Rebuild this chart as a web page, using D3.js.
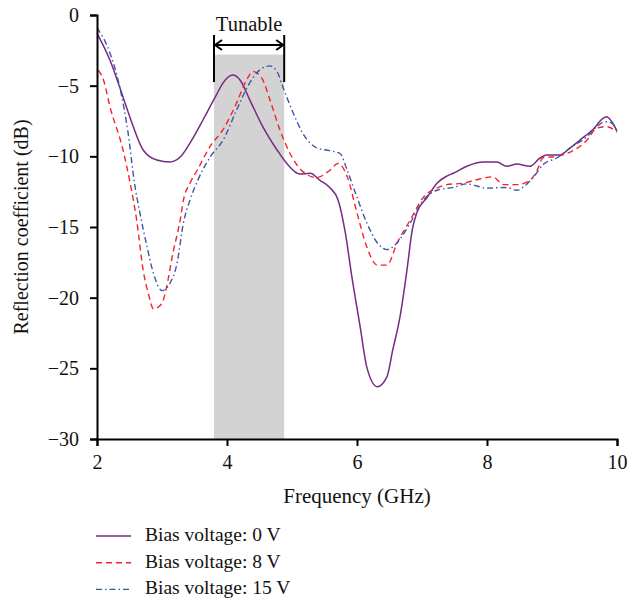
<!DOCTYPE html>
<html><head><meta charset="utf-8">
<script src="https://cdn.jsdelivr.net/npm/d3@7"></script>
<style>body{margin:0;background:#fff}svg text{font-family:"Liberation Serif","Times New Roman",serif;fill:#111}</style>
</head><body><svg id="c" width="639" height="601"></svg>
<script>
const xTicks = [2, 4, 6, 8, 10];
const yTicks = [0, -5, -10, -15, -20, -25, -30];
const seriesNames = ["Bias voltage: 0 V", "Bias voltage: 8 V", "Bias voltage: 15 V"];
const tunableBand = [3.8, 4.88, -2.8];

const freq0 = [2.0,2.2,2.4,2.55,2.71,2.92,3.12,3.28,3.43,3.63,3.82,3.94,4.09,4.2,4.35,4.55,4.77,4.92,5.12,5.28,5.43,5.58,5.71,5.82,5.92,6.05,6.15,6.31,6.46,6.55,6.66,6.77,6.85,6.92,7.08,7.23,7.38,7.48,7.69,7.94,8.15,8.3,8.46,8.66,8.82,8.92,9.12,9.28,9.43,9.63,9.79,9.84,9.92,10.0];
const db0 = [-1.3,-3.2,-5.8,-7.8,-9.55,-10.26,-10.4,-10.05,-9.06,-7.43,-5.8,-4.8,-4.25,-4.6,-6.0,-7.9,-9.55,-10.5,-11.25,-11.2,-11.7,-12.2,-13.1,-15.4,-18.5,-22.1,-24.9,-26.3,-25.6,-23.7,-21.4,-18.0,-15.2,-14.0,-12.9,-11.9,-11.4,-11.2,-10.7,-10.4,-10.4,-10.7,-10.55,-10.7,-10.1,-9.9,-9.9,-9.4,-8.85,-8.1,-7.3,-7.2,-7.55,-8.2];

const freq8 = [2.02,2.1,2.2,2.4,2.51,2.61,2.71,2.79,2.87,3.0,3.07,3.17,3.28,3.33,3.43,3.54,3.74,3.94,4.15,4.3,4.4,4.54,4.66,4.82,4.97,5.17,5.38,5.58,5.71,5.85,6.0,6.15,6.31,6.46,6.62,6.82,7.02,7.23,7.38,7.63,7.89,8.09,8.25,8.46,8.66,8.77,8.86,9.08,9.28,9.54,9.69,9.84,10.0];
const db8 = [-3.9,-4.6,-6.5,-9.55,-11.9,-14.5,-18.05,-19.7,-20.8,-20.4,-19.25,-16.8,-14.5,-13.1,-11.9,-11.0,-9.3,-8.1,-6.2,-4.6,-4.0,-4.5,-6.0,-8.2,-9.8,-11.1,-11.5,-11.0,-10.5,-11.45,-14.0,-16.4,-17.7,-17.7,-16.1,-14.5,-12.9,-12.25,-12.0,-11.9,-11.6,-11.45,-12.0,-12.0,-11.7,-11.0,-10.1,-10.0,-9.7,-8.85,-8.0,-7.9,-8.3];

const freq15 = [2.0,2.2,2.35,2.48,2.58,2.66,2.77,2.87,3.0,3.12,3.23,3.33,3.43,3.55,3.74,3.94,4.15,4.35,4.5,4.66,4.77,4.86,5.02,5.17,5.38,5.58,5.74,5.85,6.0,6.15,6.31,6.46,6.62,6.82,7.02,7.23,7.48,7.69,8.0,8.3,8.46,8.55,8.71,8.86,9.08,9.28,9.54,9.69,9.82,9.92,10.0];
const db15 = [-0.9,-2.7,-5.1,-8.4,-12.0,-14.0,-16.4,-18.3,-19.5,-19.0,-17.6,-14.7,-13.1,-11.7,-10.05,-8.85,-6.7,-4.8,-3.9,-3.6,-4.0,-5.1,-6.95,-8.4,-9.4,-9.6,-9.8,-11.0,-12.9,-14.7,-16.1,-16.6,-16.1,-14.7,-13.1,-12.4,-12.2,-11.95,-12.25,-12.2,-12.4,-12.2,-11.5,-10.6,-10.1,-9.4,-8.6,-7.9,-7.55,-7.65,-8.3];

const svg = d3.select("#c");
const x = d3.scaleLinear().domain([2, 10]).range([97, 617]);
const y = d3.scaleLinear().domain([-30, 0]).range([439, 15]);

const series = [
  {name: seriesNames[0], f: freq0, v: db0, color: "#762a83", dash: null, w: 1.5},
  {name: seriesNames[1], f: freq8, v: db8, color: "#f5222d", dash: "6,4", w: 1.4},
  {name: seriesNames[2], f: freq15, v: db15, color: "#3a56a8", dash: "6,3,1.5,3", w: 1.4}
];

// tunable band
svg.append("rect")
  .attr("x", x(tunableBand[0])).attr("width", x(tunableBand[1]) - x(tunableBand[0]))
  .attr("y", y(tunableBand[2])).attr("height", y(-30) - y(tunableBand[2]))
  .attr("fill", "#d3d3d3");

const line = d3.line().x(d => x(d[0])).y(d => y(d[1])).curve(d3.curveMonotoneX);
series.forEach(s => {
  const pts = s.f.map((f, i) => [f, s.v[i]]);
  svg.append("path").datum(pts).attr("d", line)
    .attr("fill", "none").attr("stroke", s.color).attr("stroke-width", s.w)
    .attr("stroke-dasharray", s.dash);
});

// axes
const gx = svg.append("g").attr("transform", `translate(0,${y(-30)})`)
  .call(d3.axisBottom(x).tickValues(xTicks).tickSize(7).tickPadding(9).tickFormat(d3.format("d")));
const gy = svg.append("g").attr("transform", `translate(${x(2)},0)`)
  .call(d3.axisLeft(y).tickValues(yTicks).tickSize(7).tickPadding(11).tickFormat(d3.format("d")));
[gx, gy].forEach(g => {
  g.select(".domain").attr("stroke", "#000").attr("stroke-width", 2);
  g.selectAll(".tick line").attr("stroke", "#000").attr("stroke-width", 2);
  g.selectAll(".tick text").style("font-family", '"Liberation Serif",serif').attr("font-size", 20).attr("fill", "#111");
});

// axis titles
svg.append("text").attr("x", x(6)).attr("y", 503).attr("text-anchor", "middle")
  .attr("font-size", 21).text("Frequency (GHz)");
svg.append("text").attr("transform", `translate(28,${y(-15)}) rotate(-90)`)
  .attr("text-anchor", "middle").attr("font-size", 20).text("Reflection coefficient (dB)");

// tunable bracket
const xa = x(tunableBand[0]), xb = x(tunableBand[1]);
const br = svg.append("g").attr("stroke", "#000").attr("stroke-width", 2).attr("fill", "none");
br.append("line").attr("x1", xa).attr("x2", xa).attr("y1", 35).attr("y2", 82);
br.append("line").attr("x1", xb).attr("x2", xb).attr("y1", 35).attr("y2", 82);
br.append("line").attr("x1", xa).attr("x2", xb).attr("y1", 45).attr("y2", 45);
br.append("path").attr("d", `M${xa+8},40 L${xa+1},45 L${xa+8},50`);
br.append("path").attr("d", `M${xb-8},40 L${xb-1},45 L${xb-8},50`);
svg.append("text").attr("x", (xa + xb) / 2).attr("y", 31).attr("text-anchor", "middle")
  .attr("font-size", 20.5).text("Tunable");

// legend
series.forEach((s, i) => {
  const ly = 536 + i * 26.7;
  svg.append("line").attr("x1", 96).attr("x2", 131).attr("y1", ly).attr("y2", ly)
    .attr("stroke", s.color).attr("stroke-width", s.w).attr("stroke-dasharray", s.dash);
  svg.append("text").attr("x", 145).attr("y", ly + 5).attr("font-size", 19.5).text(s.name);
});
</script></body></html>
